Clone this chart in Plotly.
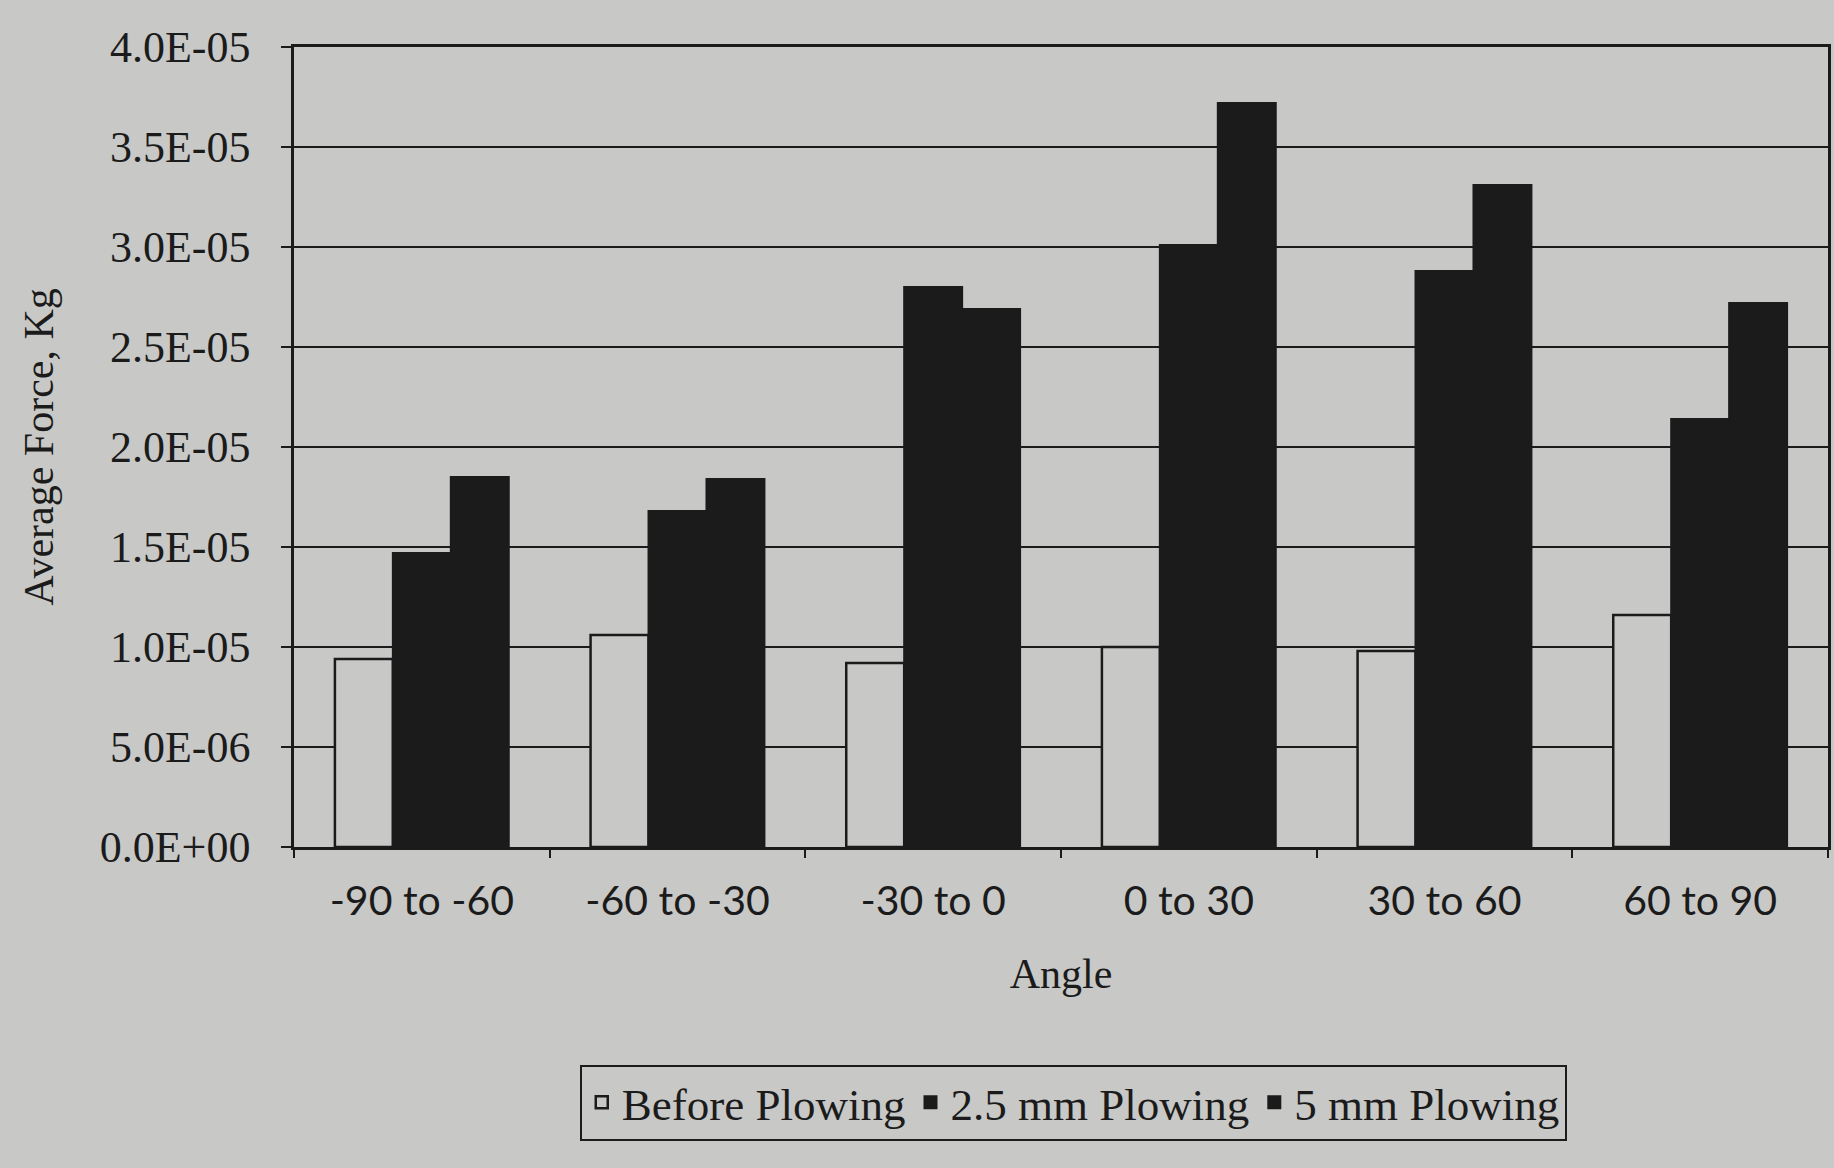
import plotly.graph_objects as go

categories = ["-90 to -60", "-60 to -30", "-30 to 0", "0 to 30", "30 to 60", "60 to 90"]
before_plowing = [9.4e-06, 1.06e-05, 9.2e-06, 1.0e-05, 9.8e-06, 1.16e-05]
plowing_2_5mm = [1.47e-05, 1.68e-05, 2.80e-05, 3.01e-05, 2.88e-05, 2.14e-05]
plowing_5mm = [1.85e-05, 1.84e-05, 2.69e-05, 3.72e-05, 3.31e-05, 2.72e-05]
y_tick_vals = [0, 5e-06, 1e-05, 1.5e-05, 2e-05, 2.5e-05, 3e-05, 3.5e-05, 4e-05]
y_tick_text = ["0.0E+00", "5.0E-06", "1.0E-05", "1.5E-05", "2.0E-05",
               "2.5E-05", "3.0E-05", "3.5E-05", "4.0E-05"]

BG = "#c8c8c6"
INK = "#1b1b1b"
SERIF = "Liberation Serif, Times New Roman, serif"

fig = go.Figure()
fig.add_trace(go.Bar(name="Before Plowing", x=categories, y=before_plowing,
                     marker=dict(color=BG, line=dict(color=INK, width=2.5))))
fig.add_trace(go.Bar(name="2.5 mm Plowing", x=categories, y=plowing_2_5mm,
                     marker=dict(color=INK, line=dict(color=INK, width=2))))
fig.add_trace(go.Bar(name="5 mm Plowing", x=categories, y=plowing_5mm,
                     marker=dict(color=INK, line=dict(color=INK, width=2))))

fig.update_layout(
    width=1834, height=1168,
    paper_bgcolor=BG, plot_bgcolor=BG,
    barmode="group", bargap=0.32, bargroupgap=0,
    margin=dict(l=294, r=3, t=47, b=321),
    font=dict(family=SERIF, color=INK, size=44),
    showlegend=True,
    legend=dict(orientation="h", x=0.508, xanchor="center", y=-0.272, yanchor="top",
                bgcolor=BG, bordercolor=INK, borderwidth=2,
                font=dict(family=SERIF, size=45, color=INK),
                itemwidth=30, traceorder="normal"),
)
fig.update_yaxes(
    range=[0, 4e-05], tickvals=y_tick_vals, ticktext=y_tick_text,
    showgrid=True, gridcolor=INK, gridwidth=2,
    showline=True, linecolor=INK, linewidth=2.5, mirror=True,
    ticks="outside", ticklen=10, tickcolor=INK, tickwidth=2,
    ticklabelstandoff=22,
    tickfont=dict(family=SERIF, size=44, color=INK),
    title=dict(text="Average Force, Kg", font=dict(family=SERIF, size=42, color=INK), standoff=34),
    zeroline=False,
)
fig.update_xaxes(
    showline=True, linecolor=INK, linewidth=3, mirror=True,
    ticks="outside", tickson="boundaries", ticklen=8, tickcolor=INK, tickwidth=1.5,
    ticklabelstandoff=16,
    tickfont=dict(family="Lato, Noto Sans, sans-serif", size=41, color=INK),
    title=dict(text="Angle", font=dict(family=SERIF, size=42, color=INK), standoff=36),
)

fig.write_html("out.html", config={"displayModeBar": False},
               post_script="document.body.style.margin='0';")
